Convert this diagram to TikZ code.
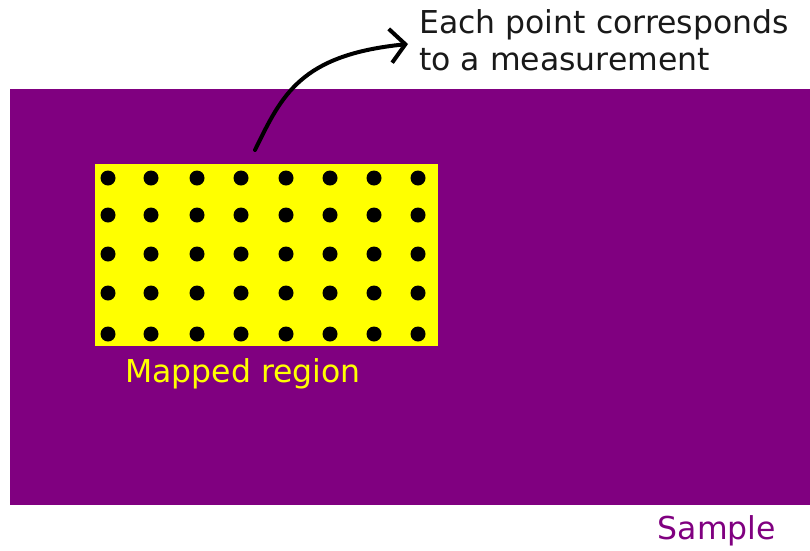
\documentclass[tikz,border=0pt]{standalone}
\usepackage{fontspec}
\setmainfont{DejaVu Sans}
\usetikzlibrary{arrows.meta}
\definecolor{samplepurple}{RGB}{128,0,128}
\definecolor{mapyellow}{RGB}{255,255,0}
\tikzset{
  dotmark/.style={circle, fill=black, minimum size=15pt, inner sep=0pt},
  label31/.style={inner sep=0pt, font=\fontsize{31.5}{37}\selectfont},
  pointer/.style={line width=4pt, line cap=round, -{Straight Barb[length=15pt, width=34pt, line width=4pt]}}
}
\begin{document}
\begin{tikzpicture}[x=1pt, y=-1pt]
\useasboundingbox (0,0) rectangle (810,550);
\fill[samplepurple] (10,89) rectangle (810,505);
\fill[mapyellow] (95,164) rectangle (438,346);
\foreach \yy [count=\r] in {178,215,254,293,334}{
  \foreach \xx [count=\c] in {108,151,197,241,286,330,374,418}{
    \node[dotmark] (dot-\r-\c) at (\xx,\yy) {};
  }
}
\node[label31, text=mapyellow, anchor=base] (mapped) at (243,382) {Mapped region};
\node[label31, text=samplepurple, anchor=base] (sample) at (717,539) {Sample};
\node[label31, text=black!90, anchor=base west] (note1) at (419,33) {Each point corresponds};
\node[label31, text=black!90, anchor=base west] (note2) at (419,70) {to a measurement};
\coordinate (arrowstart) at (255,150);
\coordinate (arrowend) at (408,44);
\draw[pointer] (arrowstart) .. controls (282,95) and (300,55) .. (arrowend);
\end{tikzpicture}
\end{document}
